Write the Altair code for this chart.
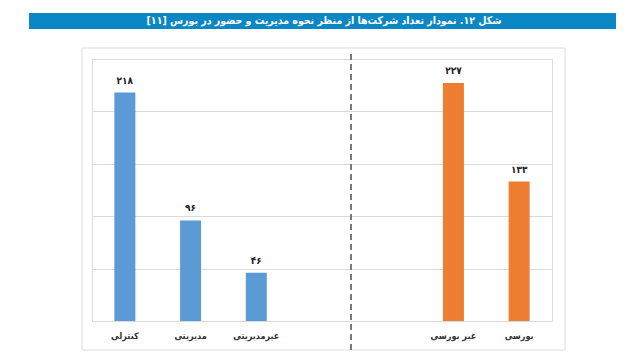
import altair as alt
import pandas as pd

# ---- data ----
categories = ["کنترلی", "مدیریتی", "غیرمدیریتی", "غیر بورسی", "بورسی"]
values = [218, 96, 46, 227, 133]
value_labels = ["۲۱۸", "۹۶", "۴۶", "۲۲۷", "۱۳۳"]
groups = ["management", "management", "management", "exchange", "exchange"]
slots = ["کنترلی", "مدیریتی", "غیرمدیریتی", " ", "  ", "غیر بورسی", "بورسی"]
y_ticks = [0, 50, 100, 150, 200, 250]
title_text = "شکل ۱۲. نمودار تعداد شرکت‌ها از منظر نحوه مدیریت و حضور در بورس [۱۱]"

group_colors = {"management": "#5B9BD5", "exchange": "#ED7D31"}

df = pd.DataFrame({
    "cat": categories,
    "value": values,
    "label": value_labels,
    "color": [group_colors[g] for g in groups],
})
one = pd.DataFrame({"a": [0]})

FONT = "DejaVu Sans Condensed, DejaVu Sans"

xenc = alt.X(
    "cat:N",
    sort=slots,
    scale=alt.Scale(domain=slots, paddingInner=0, paddingOuter=0),
    axis=alt.Axis(
        title=None, domain=False, ticks=False, labels=False,
    ),
)
yenc = alt.Y(
    "value:Q",
    scale=alt.Scale(domain=[0, 250], nice=False),
    axis=alt.Axis(
        title=None, values=y_ticks, labels=False, ticks=False, domain=False,
        grid=True, gridColor="#d9d9d9", gridWidth=1,
    ),
)

bars = alt.Chart(df).mark_bar(size=21).encode(
    x=xenc, y=yenc, color=alt.Color("color:N", scale=None)
)
labels = alt.Chart(df).mark_text(
    font=FONT, fontSize=10, fontWeight="bold", color="#222222",
    baseline="bottom", dy=-7, dir="rtl",
).encode(x=alt.X("cat:N", sort=slots), y="value:Q", text="label:N")
cat_labels = alt.Chart(df).mark_text(
    font=FONT, fontSize=9, fontWeight="bold", color="#333333",
    baseline="middle", dir="rtl",
).encode(x=alt.X("cat:N", sort=slots), y=alt.value(277), text="cat:N")

frame = alt.Chart(one).mark_rect(fill=None, stroke="#dcdcdc", strokeWidth=1).encode(
    x=alt.value(-10), x2=alt.value(473), y=alt.value(-11), y2=alt.value(291)
)
banner = alt.Chart(one).mark_rect(fill="#0B87C6").encode(
    x=alt.value(-63), x2=alt.value(524), y=alt.value(-46), y2=alt.value(-30)
)
banner_text = alt.Chart(one).mark_text(
    font=FONT, fontSize=10.5, fontWeight="bold", color="white",
    align="center", baseline="middle", dir="rtl",
).encode(x=alt.value(232), y=alt.value(-38), text=alt.value(title_text))
divider = alt.Chart(one).mark_rule(
    color="#7a7a7a", strokeWidth=2, strokeDash=[6, 4]
).encode(x=alt.value(259), y=alt.value(-5), y2=alt.value(293))

chart = alt.layer(frame, banner, banner_text, bars, labels, cat_labels, divider).properties(
    width=460, height=262,
    autosize=alt.AutoSizeParams(type="none"),
    padding={"left": 84, "top": 51, "right": 80, "bottom": 35},
).configure_view(stroke=None).configure(background="white")

chart.save("out.html", embed_options={"renderer": "svg", "actions": False})
